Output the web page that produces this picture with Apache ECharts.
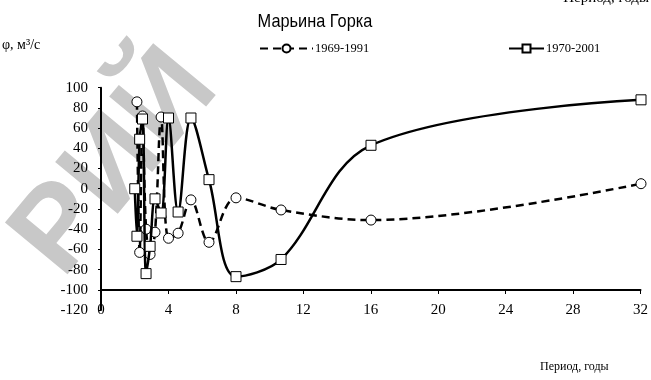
<!DOCTYPE html>
<html><head><meta charset="utf-8">
<script src="https://cdn.jsdelivr.net/npm/echarts@6/dist/echarts.min.js"></script>
<style>html,body{margin:0;padding:0;background:#fff}#c{width:651px;height:380px}</style>
</head><body><div id="c"></div>
<script>
const periods1 = [2.13, 2.29, 2.46, 2.67, 2.91, 3.2, 3.56, 4.0, 4.57, 5.33, 6.4, 8.0, 10.67, 16, 32];
const values1  = [86, -63, 72, -40, -65, -43, 71, -49, -44, -11, -53, -9, -21, -31, 5];
const periods2 = [2.0, 2.13, 2.29, 2.46, 2.67, 2.91, 3.2, 3.56, 4.0, 4.57, 5.33, 6.4, 8.0, 10.67, 16, 32];
const values2  = [0, -47, 49, 69, -84, -57, -10, -24, 70, -23, 70, 9, -87, -70, 43, 88];
const seriesNames = ['1969-1991', '1970-2001'];
const xTicks = [0, 4, 8, 12, 16, 20, 24, 28, 32];
const yTicks = [-120, -100, -80, -60, -40, -20, 0, 20, 40, 60, 80, 100];

const serif = '"Liberation Serif","Times New Roman",serif';
const chart = echarts.init(document.getElementById('c'), null, {renderer: 'canvas'});
const gridTop = 87.7;
chart.setOption({
  animation: false,
  backgroundColor: '#fff',
  legend: [
    {data: [seriesNames[0]], left: 254, top: 37, itemWidth: 53, itemHeight: 10, itemGap: 0,
      textStyle: {fontFamily: serif, fontSize: 12.5, color: '#000', padding: [0,0,0,-3]}},
    {data: [seriesNames[1]], left: 503, top: 37, itemWidth: 35, itemHeight: 10, itemGap: 0,
      textStyle: {fontFamily: serif, fontSize: 12.5, color: '#000', padding: [0,0,0,-3]}}
  ],
  graphic: [
    {type: 'text', z: -10, x: -8, y: 222, rotation: 0.88,
      style: {text: 'РИЙ', font: 'bold 118px "Liberation Sans",sans-serif', fill: '#c8c8c8'}},
    {type: 'text', x: 315, y: 22, scaleX: 0.86,
      style: {text: 'Марьина Горка', font: '19px "Liberation Sans",Arial,sans-serif', fill: '#000', textAlign: 'center', textVerticalAlign: 'middle'}},
    {type: 'text', left: 2, top: 38, style: {text: 'φ, м³/с', font: '14px ' + serif, fill: '#000'}},
    {type: 'text', left: 540, top: 361, style: {text: 'Период, годы', font: '12px ' + serif, fill: '#000'}},
    {type: 'text', right: 2, top: -9, style: {text: 'Период, годы', font: '15px ' + serif, fill: '#000'}}
  ],
  grid: [
    {left: 101, right: 10, top: gridTop, bottom: 70},
    {left: 101, right: 10, top: gridTop, bottom: 90}
  ],
  xAxis: [
    {type: 'value', gridIndex: 0, min: 0, max: 32, interval: 4,
      axisLine: {show: false}, axisTick: {show: false}, axisLabel: {show: false}, splitLine: {show: false}},
    {type: 'value', gridIndex: 1, min: 0, max: 32, interval: 4, position: 'bottom',
      axisLine: {show: true, onZero: false, lineStyle: {color: '#000', width: 2}},
      axisTick: {show: true, length: 4, lineStyle: {color: '#000', width: 1}},
      axisLabel: {show: true, margin: 13, fontFamily: serif, fontSize: 15, color: '#000',
        formatter: v => xTicks.includes(v) ? String(v) : ''},
      splitLine: {show: false}}
  ],
  yAxis: [
    {type: 'value', gridIndex: 0, min: -120, max: 100, interval: 20,
      axisLine: {show: true, onZero: false, lineStyle: {color: '#000', width: 2}},
      axisTick: {show: true, length: 3, lineStyle: {color: '#000', width: 1}},
      axisLabel: {margin: 13, fontFamily: serif, fontSize: 15, color: '#000',
        formatter: v => yTicks.includes(v) ? String(v) : ''},
      splitLine: {show: false}},
    {type: 'value', gridIndex: 1, min: 0, max: 1, show: false, splitLine: {show: false}}
  ],
  series: [
    {name: seriesNames[0], type: 'line', xAxisIndex: 0, yAxisIndex: 0, smooth: 0.35,
      data: periods1.map((p, i) => [p, values1[i]]),
      symbol: 'circle', symbolSize: 10,
      itemStyle: {color: '#fff', borderColor: '#000', borderWidth: 1},
      lineStyle: {color: '#000', width: 2.5, type: [8, 5]}, z: 3},
    {name: seriesNames[1], type: 'line', xAxisIndex: 0, yAxisIndex: 0, smooth: 0.35,
      data: periods2.map((p, i) => [p, values2[i]]),
      symbol: 'rect', symbolSize: 10,
      itemStyle: {color: '#fff', borderColor: '#000', borderWidth: 1},
      lineStyle: {color: '#000', width: 2.5}, z: 4}
  ]
});
</script></body></html>
